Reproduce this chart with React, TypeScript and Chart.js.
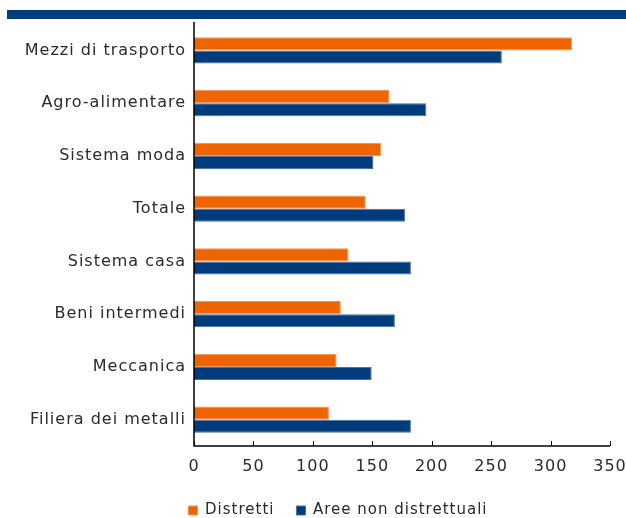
import React, { useEffect, useRef } from "react";
import { Chart, registerables } from "chart.js";

Chart.register(...registerables);

const categories = [
  "Mezzi di trasporto",
  "Agro-alimentare",
  "Sistema moda",
  "Totale",
  "Sistema casa",
  "Beni intermedi",
  "Meccanica",
  "Filiera dei metalli",
];
const distretti = [318, 164.5, 157.5, 144.5, 130, 123.5, 120, 113.5];
const areeNonDistrettuali = [259, 195.5, 151, 177.5, 182.5, 169, 149.5, 182.5];
const xTicks = [0, 50, 100, 150, 200, 250, 300, 350];

const ORANGE = "#ED6400";
const BLUE = "#003B7B";
const FONT = "'DejaVu Sans', sans-serif";
const TEXT = "#2a2a2a";
const SPACING = "1px";

const spacingPlugin = {
  id: "spacing",
  beforeInit(chart: any) {
    chart.ctx.letterSpacing = SPACING;
  },
  beforeUpdate(chart: any) {
    chart.ctx.letterSpacing = SPACING;
  },
  beforeDraw(chart: any) {
    chart.ctx.letterSpacing = SPACING;
  },
  afterLayout(chart: any) {
    const lg = chart.legend;
    if (lg) {
      const h = lg.bottom - lg.top;
      lg.left += 50;
      lg.top = chart.height - 37;
      lg.bottom = lg.top + h;
    }
  },
};

const decorPlugin = {
  id: "decor",
  beforeDraw(chart: any) {
    const { ctx } = chart;
    ctx.save();
    ctx.fillStyle = "#003E7E";
    ctx.fillRect(7, 10, chart.width - 7, 9);
    ctx.restore();
  },
  afterDraw(chart: any) {
    const { ctx, chartArea } = chart;
    const x = chart.scales.x;
    ctx.save();
    ctx.strokeStyle = "#000";
    ctx.lineWidth = 1.5;
    ctx.beginPath();
    ctx.moveTo(chartArea.left, chartArea.top - 2);
    ctx.lineTo(chartArea.left, chartArea.bottom);
    ctx.lineTo(chartArea.right, chartArea.bottom);
    ctx.stroke();
    ctx.lineWidth = 1;
    ctx.beginPath();
    x.ticks.forEach((t: any) => {
      const px = Math.round(x.getPixelForValue(t.value)) + 0.5;
      ctx.moveTo(px, chartArea.bottom - 5);
      ctx.lineTo(px, chartArea.bottom);
    });
    ctx.stroke();
    ctx.restore();
  },
};

export default function App() {
  const ref = useRef<HTMLCanvasElement>(null);
  useEffect(() => {
    if (!ref.current) return;
    const chart = new Chart(ref.current, {
      type: "bar",
      data: {
        labels: categories,
        datasets: [
          {
            label: "Distretti",
            data: distretti,
            backgroundColor: ORANGE,
            borderColor: "#F2925A",
            borderWidth: 1,
            categoryPercentage: 0.5,
            barPercentage: 1,
          },
          {
            label: "Aree non distrettuali",
            data: areeNonDistrettuali,
            backgroundColor: BLUE,
            borderColor: "#4A6FA0",
            borderWidth: 1,
            categoryPercentage: 0.5,
            barPercentage: 1,
          },
        ],
      },
      options: {
        indexAxis: "y",
        animation: false,
        responsive: false,
        maintainAspectRatio: false,
        layout: { padding: { top: 24, right: 0, left: 0, bottom: 0 } },
        scales: {
          x: {
            min: 0,
            max: 350,
            afterBuildTicks: (s: any) => {
              s.ticks = xTicks.map((v) => ({ value: v }));
            },
            grid: { display: false, drawTicks: false },
            border: { display: false },
            ticks: {
              color: TEXT,
              font: { family: FONT, size: 16 },
              padding: 11,
              maxRotation: 0,
            },
            afterFit: (s: any) => {
              s.height = 25;
              s.paddingRight = 16;
              s.paddingLeft = 0;
            },
          },
          y: {
            grid: { display: false, drawTicks: false },
            border: { display: false },
            ticks: {
              color: TEXT,
              font: { family: FONT, size: 16 },
              padding: 8,
            },
            afterFit: (s: any) => {
              s.width = 194;
            },
          },
        },
        plugins: {
          legend: {
            position: "bottom",
            labels: {
              color: TEXT,
              font: { family: FONT, size: 15 },
              boxWidth: 9,
              boxHeight: 9,
              padding: 22,
              useBorderRadius: false,
            },
          },
          tooltip: { enabled: false },
        },
      },
      plugins: [spacingPlugin, decorPlugin],
    });
    return () => chart.destroy();
  }, []);
  return (
    <div style={{ position: "absolute", left: 0, top: 0, width: 626, height: 518 }}>
      <canvas ref={ref} width={626} height={518} style={{ width: 626, height: 518 }} />
    </div>
  );
}
